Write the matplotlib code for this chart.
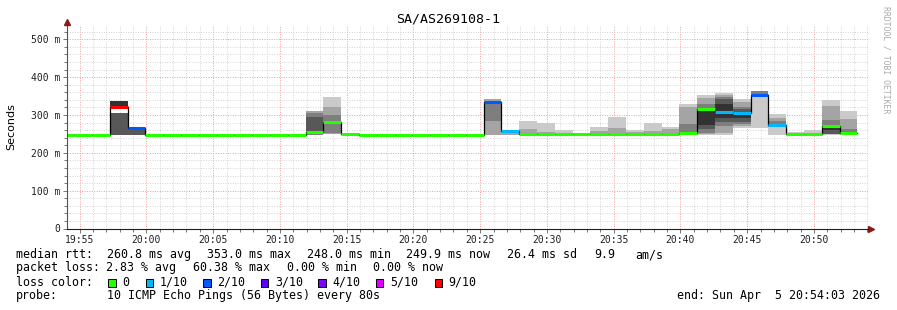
import matplotlib
matplotlib.use('Agg')
import matplotlib.pyplot as plt
import matplotlib.ticker as ticker
from matplotlib.patches import Rectangle

W, H = 897, 310
MONO = 'DejaVu Sans Mono'

# time axis in minutes after 19:00, smokeping step = 80 s
step_start = 53.25
step_len = 80 / 60.0
view_start = 54.05   # 19:54:03
view_end = 114.05    # 20:54:03

# median rtt per step (ms)
median = [248, 248, 248,
          321, 266,
          248, 248, 248, 248, 248, 248, 248, 248, 248,
          254, 282, 249,
          248, 248, 248, 248, 248, 248, 248,
          335, 257,
          249, 249, 249, 249, 249, 249, 249, 249, 249,
          253, 316, 309, 305, 354, 273, 249, 249, 272, 252]

# lost pings out of 10 per step
loss = [0, 0, 0,
        9, 2,
        0, 0, 0, 0, 0, 0, 0, 0, 0,
        0, 0, 0,
        0, 0, 0, 0, 0, 0, 0,
        2, 1,
        0, 0, 0, 0, 0, 0, 0, 0, 0,
        0, 0, 1, 1, 2, 1, 0, 0, 0, 0]

# smoke bands per step (ms), outermost first, None = not drawn
smoke = {
    3: [None, None, None, (248, 304), (321, 337)],
    4: [None, None, None, (248, 262)],
    14: [None, (248, 311), (248, 305), (249, 294)],
    15: [(249, 347), (250, 322), (252, 300)],
    16: [(248, 253)],
    24: [None, (248, 342), (284, 334)],
    25: [None, (248, 254)],
    26: [(248, 284), (249, 263)],
    27: [(248, 279), (249, 256)],
    28: [(248, 260)],
    29: [(248, 253)],
    30: [(248, 269), (249, 258)],
    31: [(248, 295), (252, 266)],
    32: [(248, 259), (249, 254)],
    33: [(248, 280), (249, 258)],
    34: [(248, 269), (249, 263)],
    35: [(248, 329), (249, 320), (250, 276)],
    36: [(248, 353), (250, 344), (252, 328), (262, 318), (273, 314)],
    37: [(248, 359), (251, 354), (270, 347), (281, 342), (291, 330)],
    38: [(265, 342), (270, 333), (276, 320), (282, 315), (292, 300)],
    39: [(265, 364), (348, 364), (352, 362)],
    40: [(248, 303), (268, 293), (270, 284)],
    41: [(248, 254)],
    42: [(248, 260)],
    43: [(248, 339), (249, 323), (250, 286), (250, 268), (261, 270)],
    44: [(248, 311), (250, 290), (251, 263)],
}

loss_colors = {0: '#26ff00', 1: '#00b8ff', 2: '#0059ff', 3: '#5e00ff',
               4: '#7e00ff', 5: '#dd00ff', 9: '#ff0000'}
legend_loss = [0, 1, 2, 3, 4, 5, 9]
loss_labels = ['0', '1/10', '2/10', '3/10', '4/10', '5/10', '9/10']
shades = ['#cacaca', '#a4a4a4', '#7e7e7e', '#585858', '#323232']

rtt_stats = ['260.8 ms avg', '353.0 ms max', '248.0 ms min', '249.9 ms now', '26.4 ms sd', '9.9', 'am/s']
loss_stats = ['2.83 % avg', '60.38 % max', '0.00 % min', '0.00 % now']
probe_text = '10 ICMP Echo Pings (56 Bytes) every 80s'
end_text = 'end: Sun Apr  5 20:54:03 2026'
title = 'SA/AS269108-1'


def fx(x):
    return x / W


def fy(y):
    return 1 - y / H


fig = plt.figure(figsize=(W / 100, H / 100), dpi=100)
ax = fig.add_axes([fx(67), fy(228.5), fx(868) - fx(67), fy(26) - fy(228.5)])

n = len(median)
starts = [step_start + i * step_len for i in range(n)]

# smoke
for i, bands in smoke.items():
    for lvl, b in enumerate(bands):
        if b is None:
            continue
        ax.bar(starts[i], b[1] - b[0], width=step_len, bottom=b[0], align='edge',
               color=shades[lvl], linewidth=0, zorder=2)

# black median step line
xs = starts + [starts[-1] + step_len]
ys = median + [median[-1]]
ax.step(xs, ys, where='post', color='black', lw=0.9, zorder=3)

# loss coloured median
for i in range(n):
    ax.hlines(median[i], starts[i], starts[i] + step_len, color=loss_colors[loss[i]],
              lw=2.2, zorder=4, capstyle='butt')

ax.set_xlim(view_start, view_end)
ax.set_ylim(0, 535)

ax.xaxis.set_major_locator(ticker.MultipleLocator(5))
ax.xaxis.set_minor_locator(ticker.MultipleLocator(1))
ax.yaxis.set_major_locator(ticker.MultipleLocator(100))
ax.yaxis.set_minor_locator(ticker.MultipleLocator(20))
ax.xaxis.set_major_formatter(ticker.FuncFormatter(
    lambda v, p: '%02d:%02d' % (19 + int(v) // 60, int(v) % 60)))
ax.yaxis.set_major_formatter(ticker.FuncFormatter(
    lambda v, p: '0' if v == 0 else '%d m' % v))

ax.grid(which='minor', color='#d4d4d4', linestyle=(0, (1, 1.5)), lw=0.7, zorder=0)
ax.grid(which='major', color='#f29a9a', linestyle=(0, (1, 1.5)), lw=0.7, zorder=1)
ax.set_axisbelow(True)

for s in ['top', 'right']:
    ax.spines[s].set_visible(False)
ax.spines['left'].set_color('#505050')
ax.spines['bottom'].set_color('#202020')
ax.spines['left'].set_zorder(5)
ax.spines['bottom'].set_zorder(5)

ax.tick_params(which='both', direction='out', color='#606060', labelsize=7,
               labelcolor='#202020', pad=2)
ax.tick_params(which='major', length=3, width=0.6)
ax.tick_params(which='minor', length=2, width=0.6)
for lab in ax.get_xticklabels() + ax.get_yticklabels():
    lab.set_family(MONO)

# axis arrows
ax.plot([0], [1.02], marker='^', color='#8b1a1a', ms=4, transform=ax.transAxes, clip_on=False)
ax.plot([1.004], [0], marker='>', color='#8b1a1a', ms=4, transform=ax.transAxes, clip_on=False)

# title and labels
fig.text(fx(448), fy(19), title, family=MONO, fontsize=9.5, ha='center', va='center')
fig.text(fx(11), fy(127), 'Seconds', fontsize=8, rotation=90, ha='center', va='center')
fig.text(fx(886), fy(60), 'RRDTOOL / TOBI OETIKER', family=MONO, fontsize=5.9,
         color='#aaaaaa', rotation=270, ha='center', va='center')

# legend
fs = 8.4
fig.text(fx(16), fy(254.5), 'median rtt:', family=MONO, fontsize=fs, va='center')
for x, t in zip([107.3, 207.3, 306.7, 406, 507.3, 594, 635], rtt_stats):
    fig.text(fx(x), fy(254.5), t, family=MONO, fontsize=fs, va='center')

fig.text(fx(16), fy(267.5), 'packet loss:', family=MONO, fontsize=fs, va='center')
for x, t in zip([106, 193.3, 286.7, 372.7], loss_stats):
    fig.text(fx(x), fy(267.5), t, family=MONO, fontsize=fs, va='center')

fig.text(fx(16), fy(282), 'loss color:', family=MONO, fontsize=fs, va='center')
sq_x = [108.3, 146, 203.3, 261, 318.3, 376, 434.7]
lab_x = [122.7, 160, 217.5, 275, 332.5, 390, 448]
for k, (sx, lx, lab) in enumerate(zip(sq_x, lab_x, loss_labels)):
    col = loss_colors[legend_loss[k]]
    fig.add_artist(Rectangle((fx(sx), fy(286.7)), 7.4 / W, 7.4 / H, facecolor=col,
                             edgecolor='black', lw=0.7, transform=fig.transFigure))
    fig.text(fx(lx), fy(282), lab, family=MONO, fontsize=fs, va='center')

fig.text(fx(16), fy(296), 'probe:', family=MONO, fontsize=fs, va='center')
fig.text(fx(107.3), fy(296), probe_text, family=MONO, fontsize=fs, va='center')
fig.text(fx(880), fy(296), end_text, family=MONO, fontsize=fs, va='center', ha='right')

fig.savefig('out.png', dpi=100)
